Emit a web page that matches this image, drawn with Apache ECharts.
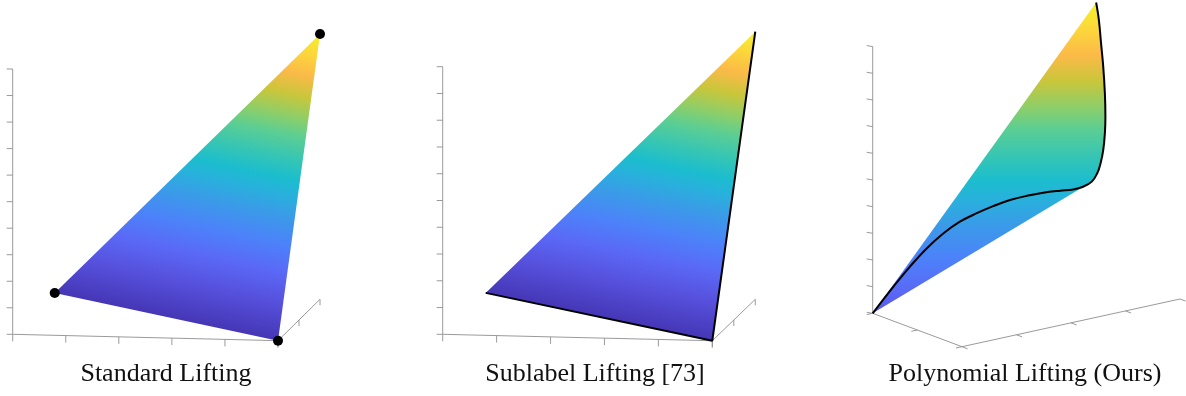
<!DOCTYPE html>
<html>
<head>
<meta charset="utf-8">
<script src="https://cdn.jsdelivr.net/npm/echarts@6/dist/echarts.min.js"></script>
<style>
  html, body { margin: 0; padding: 0; background: #ffffff; }
  #chart { width: 1186px; height: 396px; }
</style>
</head>
<body>
<div id="chart"></div>
<script>
// ---------------- data ----------------
const panelTitles = ['Standard Lifting', 'Sublabel Lifting [73]', 'Polynomial Lifting (Ours)'];

// lifted vertices (x, y, z) of the piecewise-linear liftings
const liftX = [0, 5, 5];
const liftY = [2, 0, 2];
const liftZ = [0, 0, 10];

// box ticks of the piecewise-linear panels
const xTicks = [0, 1, 2, 3, 4, 5];
const yTicks = [0, 1, 2];
const zTicks = [0, 1, 2, 3, 4, 5, 6, 7, 8, 9, 10];

// polynomial lifting: lifted curve (a, b, z)
const polyA = [0, 0, 0, 0, 0, 0, 0, 0, 0, 0, 0, 0, 0, 0, 0, 0, 0, 0, 0, 0, 0, 0, 0, 0, 0];
const polyB = [0, 0.38, 0.68, 0.99, 1.30, 1.60, 1.91, 2.21, 2.52, 2.83, 3.13, 3.44, 3.68,
               3.86, 4.02, 4.12, 4.18, 4.23, 4.26, 4.27, 4.26, 4.23, 4.19, 4.15, 4.10];
const polyZ = [0, 0.83, 1.44, 1.99, 2.42, 2.72, 2.90, 3.03, 3.12, 3.14, 3.12, 3.06, 3.00,
               3.02, 3.14, 3.41, 3.75, 4.23, 4.84, 5.46, 6.35, 7.36, 8.25, 9.14, 9.82];
const aTicks = [0, 1, 2];
const bTicks = [0, 1, 2, 3, 4];

// colormap (parula-like)
const cmapPos = [0.00, 0.12, 0.22, 0.31, 0.40, 0.47, 0.52, 0.59, 0.66, 0.72, 0.79, 0.86, 0.93, 1.00];
const cmapColors = ['#4536b5', '#5650dc', '#5a69f6', '#4c82fa', '#3a9be8', '#28b1dc', '#1bbdce',
                    '#38c6b2', '#5cce93', '#8ece69', '#c9c63b', '#fbba48', '#fcd63b', '#f4f22a'];

// ---------------- views ----------------
const W = 1186, H = 396;
const AXIS_COLOR = '#8f8f8f';

// orthographic projection of each panel: screen-horizontal u, screen-vertical v (z up)
const views = [
  { left: 0,   width: 395, origin: [12.7, 334.3],  scale: 26.53, ex: [2.000, -0.048], ey: [0.792, 0.780] },
  { left: 395, width: 395, origin: [442.7, 334.3], scale: 26.76, ex: [2.015, -0.048], ey: [0.803, 0.774] },
  { left: 790, width: 396, origin: [872.7, 313.3], scale: 26.67, ex: [1.674, -0.626], ey: [2.0435, 0.447] }
];

function proj(view, x, y, z) {
  return [view.ex[0] * x + view.ey[0] * y, view.ex[1] * x + view.ey[1] * y + z];
}

function hull(pts) {
  const p = pts.map(q => q.slice()).sort((a, b) => a[0] - b[0] || a[1] - b[1]);
  const cross = (o, a, b) => (a[0] - o[0]) * (b[1] - o[1]) - (a[1] - o[1]) * (b[0] - o[0]);
  const lower = [], upper = [];
  for (const q of p) {
    while (lower.length >= 2 && cross(lower[lower.length - 2], lower[lower.length - 1], q) <= 0) lower.pop();
    lower.push(q);
  }
  for (let i = p.length - 1; i >= 0; i--) {
    const q = p[i];
    while (upper.length >= 2 && cross(upper[upper.length - 2], upper[upper.length - 1], q) <= 0) upper.pop();
    upper.push(q);
  }
  upper.pop(); lower.pop();
  return lower.concat(upper);
}

const colorStops = cmapPos.map((o, i) => ({ offset: o, color: cmapColors[i] }));

function gradientBetween(p0, p1) {
  return new echarts.graphic.LinearGradient(p0[0], p0[1], p1[0], p1[1], colorStops, true);
}

// colour follows z across a flat facet: fit an affine map through three vertices
function facetGradient(px, c, cMin, cMax) {
  const [x0, y0] = px[0], [x1, y1] = px[1], [x2, y2] = px[2];
  const dc1 = c[1] - c[0], dc2 = c[2] - c[0];
  const det = (x1 - x0) * (y2 - y0) - (y1 - y0) * (x2 - x0);
  const al = (dc1 * (y2 - y0) - (y1 - y0) * dc2) / det;
  const be = ((x1 - x0) * dc2 - dc1 * (x2 - x0)) / det;
  const n2 = al * al + be * be;
  const pMin = [x0 + al * (cMin - c[0]) / n2, y0 + be * (cMin - c[0]) / n2];
  const pMax = [x0 + al * (cMax - c[0]) / n2, y0 + be * (cMax - c[0]) / n2];
  return gradientBetween(pMin, pMax);
}

// ---------------- grids & axes ----------------
const grids = [], xAxes = [], yAxes = [];
views.forEach((v, k) => {
  grids.push({ left: v.left, top: 0, width: v.width, height: H, show: false });
  xAxes.push({ type: 'value', gridIndex: k, show: false,
    min: (v.left - v.origin[0]) / v.scale, max: (v.left + v.width - v.origin[0]) / v.scale });
  yAxes.push({ type: 'value', gridIndex: k, show: false,
    min: (v.origin[1] - H) / v.scale, max: v.origin[1] / v.scale });
});

function boxSeries(k, segs3d, ticks, tickDirs) {
  const v = views[k];
  const segs = segs3d.map(s => proj(v, s[0], s[1], s[2]).concat(proj(v, s[3], s[4], s[5])));
  const tk = ticks.map(t => proj(v, t[0], t[1], t[2]).concat([t[3]]));
  return [{
    type: 'custom', xAxisIndex: k, yAxisIndex: k, silent: true, z: 1,
    data: segs,
    renderItem: (params, api) => {
      const a = api.coord([api.value(0), api.value(1)]);
      const b = api.coord([api.value(2), api.value(3)]);
      return { type: 'line', shape: { x1: a[0], y1: a[1], x2: b[0], y2: b[1] },
               style: { stroke: AXIS_COLOR, lineWidth: 0.9 } };
    }
  }, {
    type: 'custom', xAxisIndex: k, yAxisIndex: k, silent: true, z: 1,
    data: tk,
    renderItem: (params, api) => {
      const a = api.coord([api.value(0), api.value(1)]);
      const d = tickDirs[api.value(2)];
      return { type: 'line', shape: { x1: a[0], y1: a[1], x2: a[0] + d[0], y2: a[1] + d[1] },
               style: { stroke: AXIS_COLOR, lineWidth: 0.9 } };
    }
  }];
}

function surfaceSeries(k, pts2d, fillFn) {
  const outline = hull(pts2d);
  return {
    type: 'custom', xAxisIndex: k, yAxisIndex: k, silent: true, z: 2,
    data: outline,
    renderItem: (params, api) => {
      if (params.dataIndex !== 0) return null;
      const px = outline.map(q => api.coord(q));
      return { type: 'polygon', shape: { points: px }, style: { fill: fillFn(api), stroke: null } };
    }
  };
}

const series = [];

// piecewise-linear panels
[0, 1].forEach(k => {
  const v = views[k];
  const xMax = xTicks[xTicks.length - 1], yMax = yTicks[yTicks.length - 1], zMax = zTicks[zTicks.length - 1];
  const segs = [[0, 0, 0, 0, 0, zMax], [0, 0, 0, xMax, 0, 0], [xMax, 0, 0, xMax, yMax, 0]];
  const ticks = []
    .concat(zTicks.map(t => [0, 0, t, 0]))
    .concat(xTicks.map(t => [t, 0, 0, 1]))
    .concat(yTicks.map(t => [xMax, t, 0, 2]));
  series.push(...boxSeries(k, segs, ticks, [[-6, 0], [0, 7], [0, 6]]));

  const verts = liftX.map((x, i) => proj(v, x, liftY[i], liftZ[i]));
  series.push(surfaceSeries(k, verts, api =>
    facetGradient(verts.map(q => api.coord(q)), liftZ, zTicks[0], zMax)));
});

// vertices of the standard lifting
series.push({
  type: 'scatter', xAxisIndex: 0, yAxisIndex: 0, silent: true, z: 5,
  symbol: 'circle', symbolSize: 10, itemStyle: { color: '#000', opacity: 1 },
  data: liftX.map((x, i) => proj(views[0], x, liftY[i], liftZ[i]))
});

// edges of the sublabel lifting
series.push({
  type: 'line', xAxisIndex: 1, yAxisIndex: 1, silent: true, z: 5,
  showSymbol: false, symbol: 'none',
  lineStyle: { color: '#000', width: 2 },
  data: liftX.map((x, i) => proj(views[1], x, liftY[i], liftZ[i]))
});

// polynomial lifting panel
(function () {
  const k = 2, v = views[k];
  const aMax = aTicks[aTicks.length - 1], bMax = bTicks[bTicks.length - 1], zMax = zTicks[zTicks.length - 1];
  const segs = [[0, 0, 0, 0, 0, zMax], [0, 0, 0, aMax, 0, 0], [aMax, 0, 0, aMax, bMax, 0]];
  const ticks = []
    .concat(zTicks.map(t => [0, 0, t, 0]))
    .concat(aTicks.map(t => [t, 0, 0, 1]))
    .concat(bTicks.map(t => [aMax, t, 0, 2]));
  series.push(...boxSeries(k, segs, ticks, [[-6, -1], [-6, 1.3], [5.6, 2.1]]));

  const curve = polyA.map((a, i) => proj(v, a, polyB[i], polyZ[i]));
  // colour limits along the screen height of this view
  const cLim = [-2.2, 11.6];
  series.push(surfaceSeries(k, curve, api => gradientBetween(api.coord([0, cLim[0]]), api.coord([0, cLim[1]]))));

  series.push({
    type: 'line', xAxisIndex: k, yAxisIndex: k, silent: true, z: 5,
    showSymbol: false, symbol: 'none', smooth: 0.4,
    lineStyle: { color: '#000', width: 2 },
    data: curve
  });
})();

const titleCenters = [166, 595, 1025];

const chart = echarts.init(document.getElementById('chart'), null, { renderer: 'canvas' });
chart.setOption({
  animation: false,
  backgroundColor: '#ffffff',
  title: panelTitles.map((t, i) => ({
    text: t, left: titleCenters[i], top: 361, textAlign: 'center', padding: 0,
    textStyle: { fontFamily: 'Liberation Serif', fontSize: 26, fontWeight: 'normal', color: '#111' }
  })),
  grid: grids,
  xAxis: xAxes,
  yAxis: yAxes,
  series: series
});
</script>
</body>
</html>
